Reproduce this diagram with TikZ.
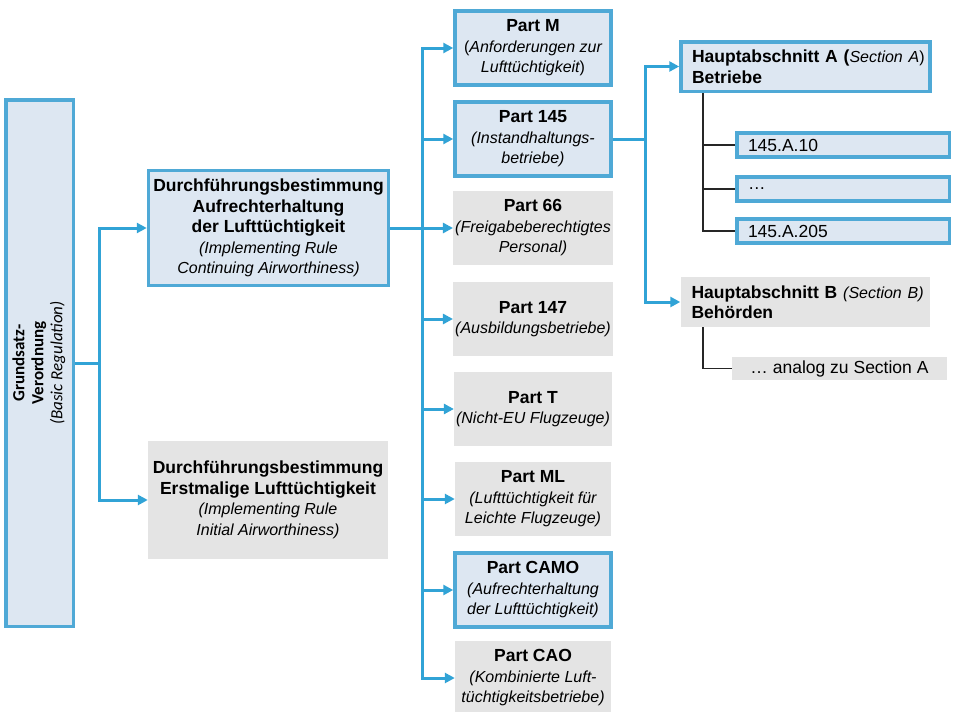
\documentclass[tikz,border=0pt]{standalone}
\usepackage{fontspec}
\usepackage{graphicx}
\setmainfont{Liberation Sans}
\newfontfamily\calibrifont{Carlito}
\usetikzlibrary{arrows.meta}

\definecolor{FrameBlue}{RGB}{79,169,214}
\definecolor{LinkBlue}{RGB}{49,163,214}
\definecolor{FilledBlue}{RGB}{221,231,242}
\definecolor{FilledGrey}{RGB}{228,228,228}

\newcommand\engl[1]{{\fontsize{16}{20.5}\selectfont\itshape #1}}

\tikzset{
  bluebox/.style={draw=FrameBlue, line width=3.5pt, fill=FilledBlue},
  greybox/.style={fill=FilledGrey},
  partbox/.style={minimum width=156pt, minimum height=74pt, align=center, inner sep=2pt},
  rulebox/.style={minimum width=240pt, minimum height=115pt, align=center, inner sep=2pt},
  sectionbox/.style={minimum height=50pt, inner xsep=11pt, inner ysep=2pt, text width=227pt, align=left},
  itembox/.style={minimum width=212.5pt, minimum height=24pt, inner xsep=11pt, inner ysep=0pt, text width=190pt, align=left},
  link/.style={LinkBlue, line width=3pt},
  linkarrow/.style={link, -{Triangle[length=10pt,width=10pt]}},
  treeline/.style={black!85, line width=1.2pt},
}

\begin{document}
\begin{tikzpicture}[x=1pt, y=-1pt, font=\fontsize{17.5}{20.5}\selectfont]

    \useasboundingbox (0,0) rectangle (953,712);

    \coordinate (bus1) at (99,363);
    \coordinate (bus2) at (422,228);
    \coordinate (bus3) at (645,139);
    \coordinate (stemx) at (703,0);

    \node[bluebox, minimum width=67.5pt, minimum height=526.5pt, inner sep=0pt] (basic) at (39.5,363)
        {\rotatebox{90}{\calibrifont\fontsize{17}{19}\selectfont
         \begin{tabular}{@{}c@{}}\textbf{Grundsatz-}\\ \textbf{Verordnung}\\ \textit{(Basic Regulation)}\end{tabular}}};

    \node[bluebox, rulebox] (irca) at (268.5,228)
        {\textbf{Durchführungsbestimmung}\\ \textbf{Aufrechterhaltung}\\ \textbf{der Lufttüchtigkeit}\\
         \engl{(Implementing Rule}\\ \engl{Continuing Airworthiness)}};
    \node[greybox, rulebox, minimum height=118pt] (iria) at (268,500)
        {\textbf{Durchführungsbestimmung}\\ \textbf{Erstmalige Lufttüchtigkeit}\\
         \engl{(Implementing Rule}\\ \engl{Initial Airworthiness)}};

    \node[bluebox, partbox] (partM) at (533,48)
        {\textbf{Part M}\\ {\fontsize{16}{20.5}\selectfont(}\engl{Anforderungen zur}\\ \engl{Lufttüchtigkeit}{\fontsize{16}{20.5}\selectfont)}};
    \node[bluebox, partbox] (part145) at (533,139)
        {\textbf{Part 145}\\ \engl{(Instandhaltungs-}\\ \engl{betriebe)}};
    \node[greybox, partbox] (part66) at (533,228)
        {\textbf{Part 66}\\ \engl{(Freigabeberechtigtes}\\ \engl{Personal)}};
    \node[greybox, partbox] (part147) at (533,319)
        {\textbf{Part 147}\\ \engl{(Ausbildungsbetriebe)}};
    \node[greybox, partbox] (partT) at (533,409)
        {\textbf{Part T}\\ \engl{(Nicht-EU Flugzeuge)}};
    \node[greybox, partbox] (partML) at (533,499)
        {\textbf{Part ML}\\ \engl{(Lufttüchtigkeit für}\\ \engl{Leichte Flugzeuge)}};
    \node[bluebox, partbox] (partCAMO) at (533,590)
        {\textbf{Part CAMO}\\ \engl{(Aufrechterhaltung}\\ \engl{der Lufttüchtigkeit)}};
    \node[greybox, partbox] (partCAO) at (533,678)
        {\textbf{Part CAO}\\ \engl{(Kombinierte Luft-}\\ \engl{tüchtigkeitsbetriebe)}};

    \node[bluebox, sectionbox, minimum height=49.5pt] (secA) at (805.5,66.5)
        {\mbox{\textbf{Hauptabschnitt A (}\engl{Section A}{\fontsize{16}{20.5}\selectfont)}}\\ \textbf{Betriebe}};
    \node[greybox, sectionbox] (secB) at (805,302)
        {\mbox{\textbf{Hauptabschnitt B} \engl{(Section B)}}\\ \textbf{Behörden}};

    \node[bluebox, itembox] (itemA) at (843,145) {145.A.10};
    \node[bluebox, itembox] (itemB) at (843,189) {…};
    \node[bluebox, itembox] (itemC) at (843,231) {145.A.205};
    \node[greybox, minimum width=215pt, minimum height=23pt, inner sep=0pt] (analog) at (839.5,368.5)
        {… analog zu Section A};

    \draw[link] (basic.east) -- (bus1);
    \draw[linkarrow] (bus1) |- (irca.west);
    \draw[linkarrow] (bus1) |- (iria.west);

    \draw[link] (irca.east) -- (bus2);
    \foreach \p in {partM, part145, part66, part147, partT, partML, partCAMO, partCAO}
        \draw[linkarrow] (bus2) |- (\p.west);

    \draw[link] (part145.east) -- (bus3);
    \draw[linkarrow] (bus3) |- (secA.west);
    \draw[linkarrow] (bus3) |- (secB.west);

    \draw[treeline] (secA.south -| stemx) |- (itemC.west);
    \draw[treeline] (itemA.west -| stemx) -- (itemA.west);
    \draw[treeline] (itemB.west -| stemx) -- (itemB.west);
    \draw[treeline] (secB.south -| stemx) |- (analog.west);
\end{tikzpicture}
\end{document}
